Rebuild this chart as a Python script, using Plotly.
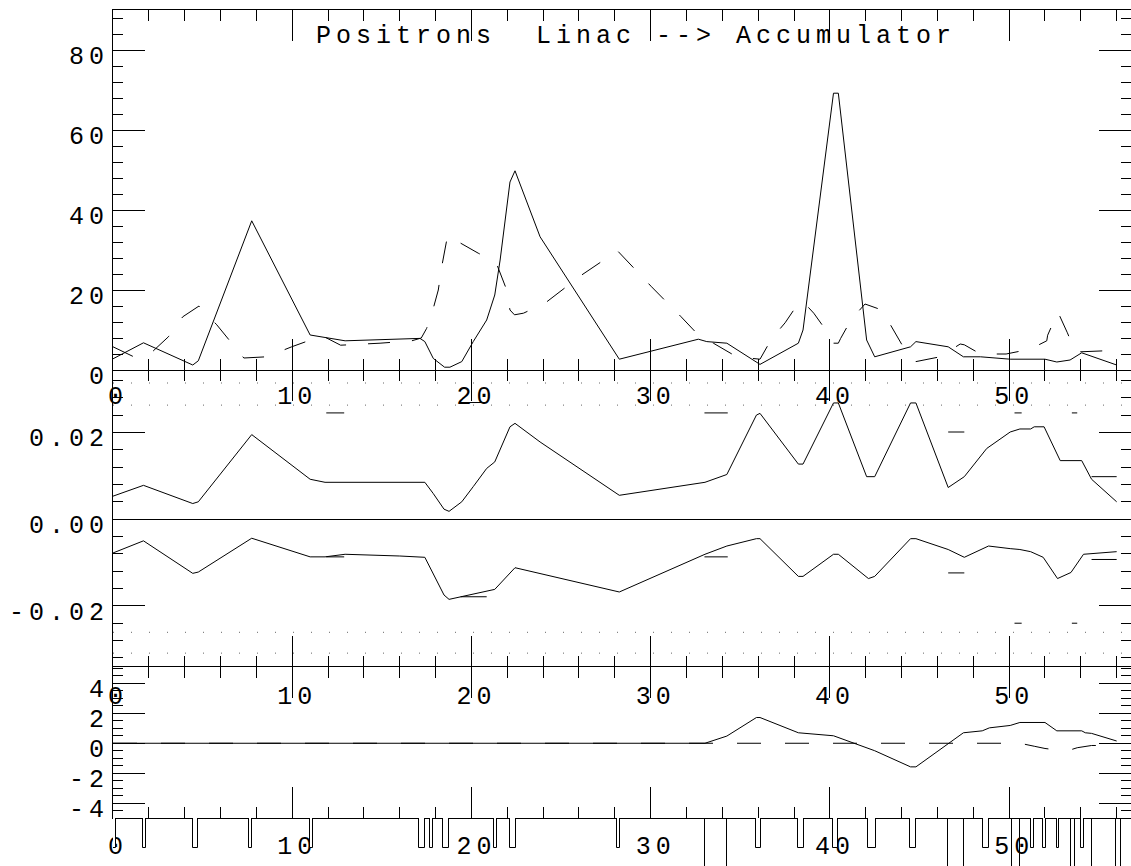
import plotly.graph_objects as go

# ---------------- data ----------------
# panel 1 : beta functions [m]
s_bx = [0, 1.7, 4.45, 4.76, 7.74, 11.0, 12.95, 16.0, 17.13, 17.4,
        17.87, 18.5, 18.8, 19.46, 20.1, 20.85, 21.3, 21.6, 22.15, 22.43,
        23.83, 28.25, 32.66, 33.13, 34.25, 36.1, 38.24, 38.5, 40.2, 40.47,
        42.05, 42.5, 44.5, 44.8, 46.6, 47.45, 48.4, 50.06, 52.0, 52.66,
        53.4, 54.05, 56.0]
beta_x = [2.8, 6.8, 1.25, 2.3, 37.3, 8.75, 7.3, 7.7, 7.9, 7.1,
          2.9, 0.7, 0.7, 2.1, 7.1, 12.5, 18.75, 27.5, 47.0, 49.8,
          33.3, 2.7, 7.7, 7.1, 6.7, 1.4, 6.7, 10.0, 69.2, 69.2,
          7.5, 3.3, 5.8, 7.1, 5.8, 3.3, 3.3, 2.7, 2.7, 2.0,
          2.5, 4.3, 1.25]
s_by = [0, 1.3, 2.25, 3.09, 3.89, 4.8, 5.79, 6.53, 7.3, 8.57,
        9.97, 11.27, 11.7, 12.7, 14.9, 16.67, 17.2, 17.5, 17.87, 18.15,
        18.34, 18.6, 18.7, 19.36, 20.38, 21.3, 21.45, 21.9, 22.15, 22.4,
        22.9, 24.1, 26.15, 28.15, 30.05, 31.7, 32.66, 33.5, 34.8, 36.1,
        36.76, 37.5, 38.24, 38.5, 39.1, 39.9, 40.2, 40.47, 40.6, 41.2,
        41.96, 42.9, 43.45, 44.1, 44.8, 46.15, 47.27, 47.5, 48.4, 49.83,
        51.17, 52.1, 52.15, 52.72, 53.25, 53.7, 55.36, 56.0]
beta_y = [5.8, 3.0, 4.8, 8.3, 13.3, 16.0, 11.3, 7.3, 3.0, 3.3,
          5.8, 7.9, 8.5, 6.2, 6.7, 7.3, 8.0, 10.4, 15.4, 20.0,
          25.8, 32.0, 33.8, 31.8, 29.2, 27.1, 26.0, 20.8, 15.0, 13.8,
          14.2, 16.7, 23.75, 29.8, 20.8, 13.3, 8.75, 6.7, 3.3, 2.7,
          7.9, 11.8, 16.7, 17.1, 14.2, 9.2, 6.7, 6.7, 7.9, 12.7,
          16.5, 15.0, 10.7, 5.7, 2.1, 3.3, 6.5, 6.3, 4.0, 4.0,
          5.2, 7.3, 8.7, 14.5, 9.3, 4.5, 4.8, 4.2]

# panel 2 : beam envelope [m]
s_up = [0, 1.7, 4.45, 4.76, 7.74, 11.0, 11.83, 17.4, 17.87, 18.47,
        18.75, 19.46, 20.1, 20.85, 21.3, 22.15, 22.43, 23.83, 28.25, 33.03,
        34.25, 35.9, 36.1, 38.24, 38.5, 40.2, 40.47, 42.05, 42.5, 44.5,
        44.8, 46.6, 47.5, 48.75, 50.06, 50.6, 51.2, 51.4, 51.95, 52.85,
        54.05, 54.6, 56.0]
env_up = [0.0053, 0.0078, 0.0036, 0.0040, 0.0195, 0.0092, 0.0085, 0.0085, 0.0059, 0.0023,
          0.0018, 0.0040, 0.0075, 0.0117, 0.0132, 0.0213, 0.0221, 0.0178, 0.0055, 0.0085,
          0.0103, 0.0240, 0.0244, 0.0127, 0.0127, 0.0268, 0.0268, 0.0098, 0.0098, 0.0268,
          0.0268, 0.0073, 0.0098, 0.0163, 0.0201, 0.0208, 0.0208, 0.0213, 0.0213, 0.0135,
          0.0135, 0.0092, 0.0040]
s_lo = [0, 1.7, 4.45, 4.76, 7.74, 11.0, 11.83, 12.95, 16.0, 17.4,
        18.47, 18.75, 21.3, 22.43, 28.25, 33.03, 34.25, 35.9, 36.1, 38.24,
        38.5, 40.2, 40.47, 42.15, 42.5, 44.5, 44.8, 46.6, 47.5, 48.85,
        50.06, 50.6, 51.2, 51.4, 51.9, 52.7, 53.45, 54.15, 56.0]
env_lo = [-0.0078, -0.0050, -0.0125, -0.0122, -0.0044, -0.0087, -0.0087, -0.0081, -0.0085, -0.0088,
          -0.0175, -0.0185, -0.0162, -0.0112, -0.0168, -0.0081, -0.0062, -0.0045, -0.0045, -0.0132,
          -0.0132, -0.0081, -0.0081, -0.0137, -0.0132, -0.0045, -0.0045, -0.0070, -0.0088, -0.0062,
          -0.0068, -0.0070, -0.0075, -0.0079, -0.0088, -0.0137, -0.0123, -0.0081, -0.0075]
# short dashed pieces (vertical plane)
s_seg = [11.9, 12.9, None, 19.4, 20.85, None, 33.0, 34.3, None, 46.6, 47.5, None,
         50.3, 50.7, None, 53.5, 53.8, None, 54.6, 56.0]
seg_up = [0.0245, 0.0245, None, 0.0269, 0.0269, None, 0.0245, 0.0245, None, 0.0201, 0.0201, None,
          0.0245, 0.0245, None, 0.0245, 0.0245, None, 0.0098, 0.0098]
seg_lo = [-0.0087, -0.0087, None, -0.0179, -0.0179, None, -0.0087, -0.0087, None, -0.0124, -0.0124, None,
          -0.0240, -0.0240, None, -0.0240, -0.0240, None, -0.0093, -0.0093]
aperture = [0.0314, 0.0263, -0.0261, -0.0309]

# panel 3 : dispersion [m]
s_dx = [0, 33.03, 34.25, 35.9, 36.1, 38.24, 40.2, 42.5, 44.5, 44.8,
        47.45, 48.5, 48.9, 50.06, 50.6, 52.0, 52.66, 54.05, 54.25, 54.6, 56.0]
disp_x = [0, 0, 0.48, 1.72, 1.72, 0.7, 0.5, -0.5, -1.58, -1.58,
          0.7, 0.83, 1.03, 1.19, 1.39, 1.39, 0.83, 0.83, 0.7, 0.66, 0.15]
s_dy = [0, 50.6, 51.4, 52.0, 52.66, 53.4, 53.8, 54.6, 56.0]
disp_y = [0, 0, -0.2, -0.35, -0.45, -0.45, -0.3, -0.15, -0.15]

# lattice elements (start, length)
quad_s = [0.0, 1.66, 4.48, 7.6, 11.0, 17.1, 17.7, 18.43, 21.28, 22.15, 28.14,
          35.86, 38.24, 40.2, 42.1, 44.48, 48.53, 51.2, 51.9, 52.66, 54.0]
quad_l = [0.15, 0.16, 0.28, 0.14, 0.15, 0.3, 0.17, 0.32, 0.17, 0.32, 0.16,
          0.3, 0.32, 0.27, 0.48, 0.32, 0.32, 0.16, 0.16, 0.14, 0.2]
bend_s = [33.03, 46.6, 50.15, 53.44, 54.6, 55.97]
bend_l = [1.22, 0.89, 0.45, 0.24, 0.03, 0.28]

s_ticks = [0, 10, 20, 30, 40, 50]
s_tick_text = ["0", "10", "20", "30", "40", "50"]
beta_ticks = [0, 20, 40, 60, 80]
beta_tick_text = ["0", "20", "40", "60", "80"]
env_ticks = [-0.02, 0.0, 0.02]
env_tick_text = ["-0.02", "0.00", "0.02"]
disp_ticks = [-4, -2, 0, 2, 4]
disp_tick_text = ["-4", "-2", "0", "2", "4"]
title_text = "Positrons  Linac --> Accumulator"

# ---------------- figure ----------------
BLK = "black"
FONT = dict(family="Liberation Mono, Courier New, monospace", size=25, color=BLK)
X_RANGE = [0, 56.8]
H = 856.0  # plot-area height in px (top margin 10)

fig = go.Figure()


def line(x, y, xa, ya, dash=None, color=BLK):
    d = dict(color=color, width=1)
    if dash:
        d["dash"] = dash
    fig.add_trace(go.Scatter(x=x, y=y, mode="lines", line=d, xaxis=xa, yaxis=ya,
                             showlegend=False, hoverinfo="skip", connectgaps=False))


line(s_bx, beta_x, "x", "y")
line(s_by, beta_y, "x", "y", dash="22px,22px")

ap_x, ap_y = [], []
for v in aperture:
    ap_x += [X_RANGE[0], X_RANGE[1], None]
    ap_y += [v, v, None]
line(ap_x, ap_y, "x2", "y2", dash="1px,17px", color="#666666")
line(s_up, env_up, "x2", "y2")
line(s_lo, env_lo, "x2", "y2")
line(s_seg, seg_up, "x2", "y2")
line(s_seg, seg_lo, "x2", "y2")

line(s_dx, disp_x, "x3", "y3")
line(s_dy, disp_y, "x3", "y3", dash="24px,24px")

fig.add_trace(go.Bar(x=[s + l / 2 for s, l in zip(quad_s, quad_l)], y=[-30] * len(quad_s),
                     base=0, width=quad_l, xaxis="x4", yaxis="y4",
                     marker=dict(color="white", line=dict(color=BLK, width=1)),
                     showlegend=False, hoverinfo="skip"))
fig.add_trace(go.Bar(x=[s + l / 2 for s, l in zip(bend_s, bend_l)], y=[-90] * len(bend_s),
                     base=0, width=bend_l, xaxis="x4", yaxis="y4",
                     marker=dict(color="rgba(0,0,0,0)", line=dict(color=BLK, width=1)),
                     showlegend=False, hoverinfo="skip"))

tick_common = dict(linecolor=BLK, linewidth=1, mirror="ticks",
                   ticks="inside", tickcolor=BLK, tickwidth=1,
                   showgrid=False, zeroline=False, automargin=False)


def xax(anchor, standoff, showline=True):
    return dict(anchor=anchor, range=X_RANGE, tickmode="array", tickvals=s_ticks,
                ticktext=s_tick_text, ticklen=31, tickfont=FONT, showline=showline,
                ticklabelstandoff=standoff, ticklabelshift=5,
                minor=dict(ticks="inside", ticklen=11, tick0=0, dtick=2,
                           tickcolor=BLK, tickwidth=1),
                **tick_common)


def yax(domain, rng, tv, tt, mdt, **kw):
    d = dict(domain=domain, range=rng, tickmode="array", tickvals=tv, ticktext=tt,
             ticklen=32, tickfont=FONT, ticklabelshift=5, ticklabelstandoff=-2,
             showline=True,
             minor=dict(ticks="inside", ticklen=10, tick0=0, dtick=mdt,
                        tickcolor=BLK, tickwidth=1),
             **tick_common)
    d.update(kw)
    return d


d1 = [496 / H, 1.0]
d2 = [199 / H, 496 / H]
d3 = [48 / H, 199 / H]
d4 = [0.0, 48 / H]

fig.update_layout(
    width=1131, height=866,
    margin=dict(l=113, r=0, t=10, b=0, autoexpand=False),
    paper_bgcolor="white", plot_bgcolor="white",
    showlegend=False, barmode="overlay", bargap=0,
    xaxis=xax("y", 3),
    xaxis2=xax("y2", 11, showline=False),
    xaxis3=xax("y3", 5),
    xaxis4=dict(anchor="y4", range=X_RANGE, visible=False, automargin=False),
    yaxis=yax(d1, [0, 90], beta_ticks, beta_tick_text, 4),
    yaxis2=yax(d2, [-0.0341, 0.0344], env_ticks, env_tick_text, 0.004,
               zeroline=True, zerolinecolor=BLK, zerolinewidth=1),
    yaxis3=yax(d3, [-5.0, 5.1], disp_ticks, disp_tick_text, 0.5),
    yaxis4=dict(domain=d4, range=[-48, 0], visible=False, automargin=False),
    annotations=[dict(text=title_text, xref="paper", yref="paper",
                      x=0.5138, y=0.9685, xanchor="center", yanchor="middle",
                      showarrow=False, font=FONT)],
)

post = """
document.body.style.margin='0';
document.body.style.overflow='hidden';
var st=document.createElement('style');
st.textContent='.main-svg text{letter-spacing:5px;}';
document.head.appendChild(st);
"""
fig.write_html("out.html", post_script=post, config={"displayModeBar": False})
